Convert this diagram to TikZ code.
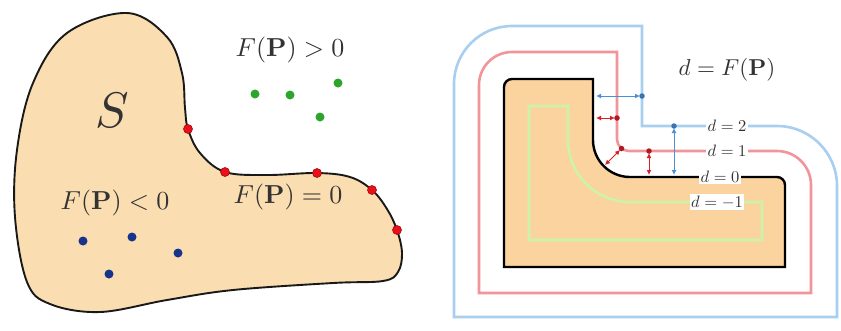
\documentclass[tikz,border=0pt]{standalone}
\usepackage{graphicx}
\usepackage{amsmath}
\usetikzlibrary{arrows.meta}
\definecolor{blobfill}{HTML}{FADDB0}
\definecolor{shapefill}{HTML}{FBD39F}
\definecolor{lblue}{HTML}{A8CEF0}
\definecolor{lred}{HTML}{F29499}
\definecolor{lgreen}{HTML}{CDF3A8}
\definecolor{txt}{HTML}{333333}
\definecolor{dotred}{HTML}{E8101A}
\definecolor{dotgreen}{HTML}{2DA52D}
\definecolor{dotblue}{HTML}{17348C}
\definecolor{arrblue}{HTML}{4A90D9}
\definecolor{arrred}{HTML}{D8202A}
\newcommand{\myscl}[2]{\scalebox{#1}{#2}}
\tikzset{
  rdot/.style={circle, fill=dotred, draw=dotred!70!black, line width=0.6pt, inner sep=0pt, minimum size=9pt},
  gdot/.style={circle, fill=dotgreen, inner sep=0pt, minimum size=9pt},
  bdot/.style={circle, fill=dotblue, inner sep=0pt, minimum size=9pt},
  sbdot/.style={circle, fill=arrblue!80!black, inner sep=0pt, minimum size=5.5pt},
  srdot/.style={circle, fill=arrred!80!black, inner sep=0pt, minimum size=5.5pt},
  biglabel/.style={text=txt},
  dlabel/.style={text=txt, fill=white, inner sep=1.5pt},
  contour/.style={line width=2.6pt},
  darr/.style={{Latex[length=5pt,width=5pt]}-{Latex[length=5pt,width=5pt]}, line width=1pt, shorten >=2pt}
}
\begin{document}
\begin{tikzpicture}[x=1pt,y=1pt]
\useasboundingbox (0,0) rectangle (841,-330);
% ---------------- left panel ----------------
\draw[line width=1.9pt, fill=blobfill, draw=black!90]
  plot[smooth cycle, tension=0.6] coordinates {
  (127,-13) (167,-37) (182,-73) (185,-108) (188,-129) (200,-153) (225,-172)
  (267,-175) (317,-173) (350,-177) (372,-190) (387,-209) (397,-230)
  (402,-253) (398,-272) (383,-281) (333,-283) (233,-290) (167,-300)
  (100,-312) (50,-304) (27,-282) (15,-217) (17,-150) (33,-83) (67,-33)};
\node[rdot] (r1) at (188,-129) {};
\node[rdot] (r2) at (225,-172) {};
\node[rdot] (r3) at (317,-173) {};
\node[rdot] (r4) at (372,-190) {};
\node[rdot] (r5) at (397,-230) {};
\node[gdot] (g1) at (255,-94) {};
\node[gdot] (g2) at (290,-95) {};
\node[gdot] (g3) at (338,-83) {};
\node[gdot] (g4) at (320,-117) {};
\node[bdot] (b1) at (83,-241) {};
\node[bdot] (b2) at (132,-237) {};
\node[bdot] (b3) at (178,-253) {};
\node[bdot] (b4) at (109,-274) {};
\node[text=txt] (S) at (112,-110) {\myscl{5}{$S$}};
\node[biglabel] (gt) at (290,-50) {\myscl{2.6}{$F(\mathbf{P})>0$}};
\node[biglabel] (lt) at (115,-203) {\myscl{2.6}{$F(\mathbf{P})<0$}};
\node[biglabel] (eq) at (288,-197) {\myscl{2.6}{$F(\mathbf{P})=0$}};
% ---------------- right panel ----------------
% d = 2 (blue)
\draw[contour, lblue] (454,-317) -- (454,-84) arc[start angle=180,end angle=90,radius=58]
  -- (642,-26) -- (642,-126) -- (777,-126) arc[start angle=90,end angle=0,radius=60]
  -- (837,-317) -- cycle;
% d = 1 (red)
\draw[contour, lred] (479,-293) -- (479,-85) arc[start angle=180,end angle=90,radius=33]
  -- (617,-52) -- (617,-139) arc[start angle=180,end angle=270,radius=12]
  -- (777,-151) arc[start angle=90,end angle=0,radius=34]
  -- (811,-293) -- cycle;
% d = 0 (black shape)
\draw[line width=2.4pt, black, fill=shapefill] (504,-267) -- (504,-87) arc[start angle=180,end angle=90,radius=8]
  -- (593,-79) -- (593,-140) arc[start angle=180,end angle=270,radius=37]
  -- (777,-177) arc[start angle=90,end angle=0,radius=8]
  -- (785,-267) -- cycle;
% d = -1 (green)
\draw[contour, lgreen] (529,-240) -- (529,-106) -- (568,-106) -- (568,-140)
  arc[start angle=180,end angle=270,radius=62] -- (762,-202) -- (762,-240) -- cycle;
% labels
\node[text=txt] (title) at (727,-70) {\myscl{2.3}{$d=F(\mathbf{P})$}};
\node[dlabel] (l2) at (727,-126) {\myscl{1.65}{$d=2$}};
\node[dlabel] (l1) at (727,-151) {\myscl{1.65}{$d=1$}};
\node[dlabel] (l0) at (720,-177) {\myscl{1.65}{$d=0$}};
\node[dlabel] (lm) at (717,-202) {\myscl{1.65}{$d=-1$}};
% distance arrows
\coordinate (ba) at (596,-96);
\node[sbdot] (bd1) at (642,-96) {};
\draw[darr, arrblue] (ba) -- (bd1.center);
\coordinate (bb) at (674,-175);
\node[sbdot] (bd2) at (674,-126) {};
\draw[darr, arrblue] (bb) -- (bd2.center);
\coordinate (ra) at (596,-118);
\node[srdot] (rd1) at (617,-118) {};
\draw[darr, arrred] (ra) -- (rd1.center);
\coordinate (rb) at (605,-165);
\node[srdot] (rd2) at (621.5,-148.5) {};
\draw[darr, arrred] (rb) -- (rd2.center);
\coordinate (rc) at (649,-175);
\node[srdot] (rd3) at (649,-151) {};
\draw[darr, arrred] (rc) -- (rd3.center);
\end{tikzpicture}
\end{document}
